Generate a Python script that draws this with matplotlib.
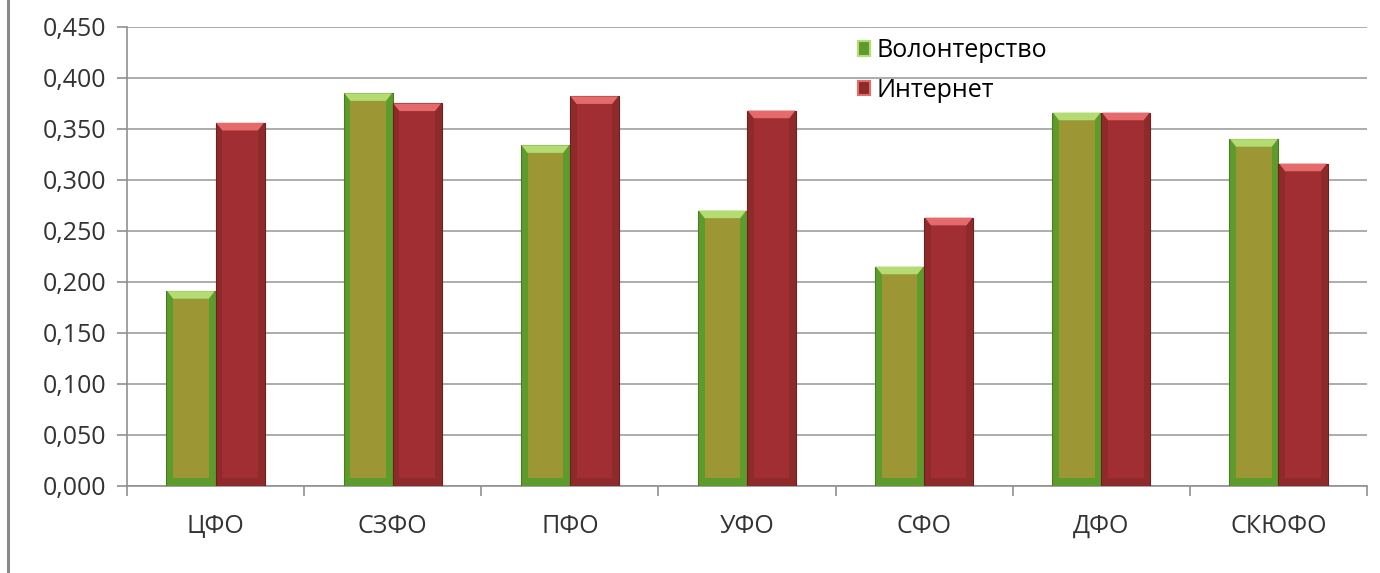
import matplotlib
matplotlib.use("Agg")
import matplotlib.pyplot as plt
from matplotlib.patches import Polygon, Rectangle
from matplotlib.lines import Line2D
from matplotlib.ticker import FuncFormatter, MultipleLocator
import numpy as np

categories = ["ЦФО", "СЗФО", "ПФО", "УФО", "СФО", "ДФО", "СКЮФО"]
volunteering = [0.191, 0.385, 0.334, 0.270, 0.215, 0.366, 0.340]
internet = [0.356, 0.375, 0.382, 0.368, 0.263, 0.366, 0.316]
series_names = ["Волонтерство", "Интернет"]

plt.rcParams["font.family"] = ["Open Sans", "DejaVu Sans"]

fig = plt.figure(figsize=(13.8, 5.73), dpi=100)
ax = fig.add_axes([0.092, 0.152, 0.8986, 0.801])

x = np.arange(len(categories))
bw = 0.277

styles = [
    dict(outer="#5d9b2c", inner="#9c9634", cap="#b5dc72", edge="#4a7a22"),
    dict(outer="#8e2a2a", inner="#a12e33", cap="#e56a6c", edge="#6e1f1f"),
]

ax.set_xlim(-0.5, len(categories) - 0.5)
ax.set_ylim(0, 0.45)

bevel_x = 0.038
bevel_y = 0.0075
for vals, off, st in [(volunteering, -bw / 2, styles[0]), (internet, bw / 2, styles[1])]:
    bars = ax.bar(x + off, vals, width=bw, color=st["outer"], edgecolor=st["edge"],
                  linewidth=0.8, zorder=3)
    for b in bars:
        x0, w, h = b.get_x(), b.get_width(), b.get_height()
        ax.add_patch(Rectangle((x0 + bevel_x, bevel_y), w - 2 * bevel_x,
                               h - 2 * bevel_y, facecolor=st["inner"],
                               edgecolor="none", zorder=4))
        cap = Polygon([(x0 + 0.004, h), (x0 + w - 0.004, h),
                       (x0 + w - bevel_x, h - bevel_y), (x0 + bevel_x, h - bevel_y)],
                      closed=True, facecolor=st["cap"], edgecolor="none", zorder=5)
        ax.add_patch(cap)

ax.yaxis.set_major_locator(MultipleLocator(0.05))
ax.yaxis.set_major_formatter(FuncFormatter(lambda v, p: f"{v:.3f}".replace(".", ",")))
ax.grid(axis="y", color="#a6a6a6", linewidth=1.3, zorder=0)
ax.set_axisbelow(True)

ax.set_xticks(x)
ax.set_xticklabels(categories)
ax.set_xticks(np.arange(-0.5, len(categories), 1.0), minor=True)
ax.tick_params(axis="x", which="major", length=0, pad=20, labelsize=18, labelcolor="#333333")
ax.tick_params(axis="x", which="minor", length=7, color="#909090", width=1.2)
ax.tick_params(axis="y", length=7, color="#909090", width=1.2, labelsize=18,
               labelcolor="#333333", pad=8)

for s in ["top", "right"]:
    ax.spines[s].set_visible(False)
ax.spines["left"].set_color("#909090")
ax.spines["bottom"].set_color("#909090")
ax.spines["left"].set_linewidth(1.2)
ax.spines["bottom"].set_linewidth(1.2)

handles = [Rectangle((0, 0), 1, 1, facecolor=styles[i]["outer"],
                     edgecolor=styles[i]["cap"], linewidth=1.5) for i in range(2)]
ax.legend(handles, series_names, loc="upper left", bbox_to_anchor=(0.571, 1.024),
          frameon=False, fontsize=18, handlelength=0.5, handleheight=0.5,
          handletextpad=0.25, labelspacing=0.58)

fig.add_artist(Line2D([0.006, 0.006], [0.0, 1.0], transform=fig.transFigure,
                      color="#8a8a8a", linewidth=2.2))

fig.savefig("out.png", dpi=100, facecolor="white")
